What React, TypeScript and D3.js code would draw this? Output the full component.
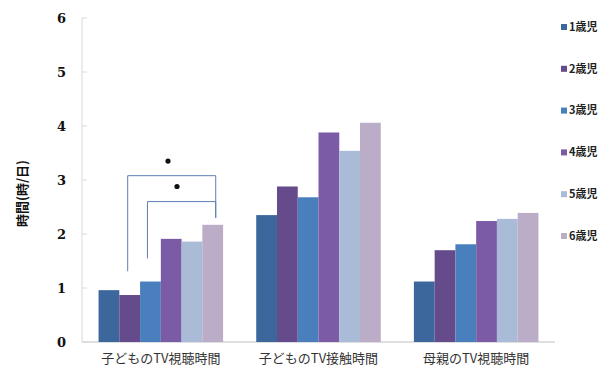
import React from "react";
import * as d3 from "d3";

const categories = ["子どものTV視聴時間", "子どものTV接触時間", "母親のTV視聴時間"];
const seriesNames = ["1歳児", "2歳児", "3歳児", "4歳児", "5歳児", "6歳児"];
const age1 = [0.96, 2.35, 1.12];
const age2 = [0.87, 2.88, 1.70];
const age3 = [1.12, 2.68, 1.81];
const age4 = [1.91, 3.88, 2.24];
const age5 = [1.86, 3.54, 2.28];
const age6 = [2.17, 4.06, 2.39];
const seriesValues = [age1, age2, age3, age4, age5, age6];
const colors = ["#3b679c", "#664b8c", "#4a7fbe", "#7c5ba6", "#a9bbd7", "#bbadc8"];
const yTicks = [0, 1, 2, 3, 4, 5, 6];
const yLabel = "時間(時/日)";

const FONT = "'Noto Sans CJK JP', 'Noto Sans', sans-serif";

export default function App() {
  const W = 616, H = 374;
  const x0 = 82, x1 = 555;
  const y = d3.scaleLinear().domain([0, 6]).range([342, 18]);
  const xBand = d3.scaleBand<string>().domain(categories).range([x0, x1]).paddingInner(0.21).paddingOuter(0.105);
  const xInner = d3.scaleBand<string>().domain(seriesNames).range([0, xBand.bandwidth()]);

  const gx = xBand(categories[0])!;
  const bw = xInner.bandwidth();
  const cx = (i: number) => gx + xInner(seriesNames[i])! + bw / 2;
  const outerL = cx(1) - 2, innerL = cx(2) - 3, right = cx(5) + 3;
  const outerY = y(3.08), innerY = y(2.6);
  const legendY = d3.range(6).map(i => 27 + i * 41.8);

  return (
    <svg width={W} height={H} style={{ position: "absolute", left: 0, top: 0, background: "#fff" }}>
      <rect width={W} height={H} fill="#fff" />
      {/* axes */}
      <line x1={x0} x2={x0} y1={y(6)} y2={y(0)} stroke="#d9d9d9" strokeWidth={1} />
      <line x1={x0} x2={x1} y1={y(0)} y2={y(0)} stroke="#bfbfbf" strokeWidth={1} />
      {yTicks.map(t => (
        <g key={t}>
          <line x1={x0} x2={x0 + 5} y1={y(t)} y2={y(t)} stroke="#d9d9d9" />
          <text x={66} y={y(t)} dy="0.35em" textAnchor="end" fontFamily="'DejaVu Serif', serif" fontWeight="bold" fontSize={13} fill="#111">{t}</text>
        </g>
      ))}
      <text transform={`translate(22,${y(2.75)}) rotate(-90)`} textAnchor="middle" dy="0.35em" fontFamily={FONT} fontWeight="bold" fontSize={13} fill="#111">{yLabel}</text>
      {/* bars */}
      {categories.map((c, ci) => (
        <g key={c} transform={`translate(${xBand(c)},0)`}>
          {seriesNames.map((s, si) => (
            <rect key={s} x={xInner(s)!} width={bw} y={y(seriesValues[si][ci])} height={y(0) - y(seriesValues[si][ci])} fill={colors[si]} />
          ))}
        </g>
      ))}
      {/* category labels */}
      {categories.map(c => (
        <text key={c} x={xBand(c)! + xBand.bandwidth() / 2} y={358} dy="0.35em" textAnchor="middle" fontFamily={FONT} fontSize={13} fill="#333">{c}</text>
      ))}
      {/* significance brackets */}
      <path d={`M${outerL},${y(1.31)}V${outerY}H${right}V${y(2.3)}`} fill="none" stroke="#5b7fb5" strokeWidth={1} />
      <path d={`M${innerL},${y(1.55)}V${innerY}H${right}V${y(2.3)}`} fill="none" stroke="#5b7fb5" strokeWidth={1} />
      <circle cx={168} cy={y(3.35)} r={2.6} fill="#111" />
      <circle cx={177} cy={y(2.88)} r={2.6} fill="#111" />
      {/* legend */}
      {seriesNames.map((s, i) => (
        <g key={s}>
          <rect x={561} y={legendY[i] - 3} width={6} height={6} fill={colors[i]} />
          <text x={569} y={legendY[i]} dy="0.35em" fontFamily={FONT} fontWeight="bold" fontSize={11} fill="#222">{s}</text>
        </g>
      ))}
    </svg>
  );
}
